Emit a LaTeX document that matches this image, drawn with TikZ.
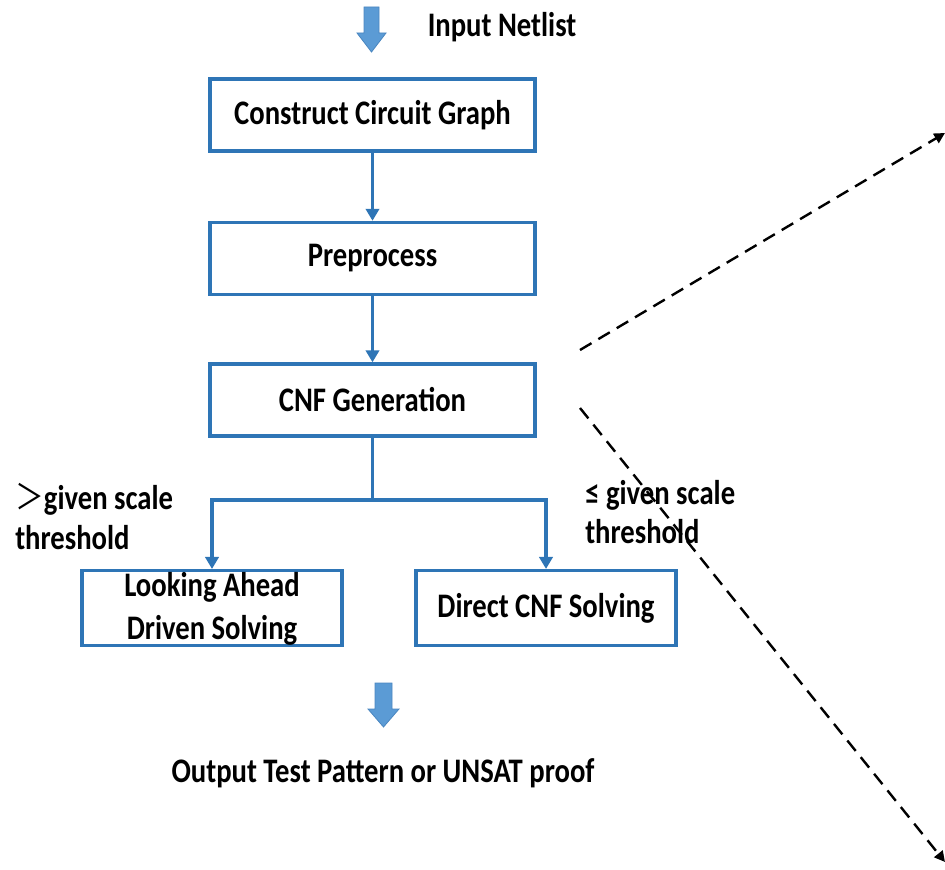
\documentclass[tikz,border=0pt]{standalone}
\usepackage{fontspec}
\setmainfont{Carlito}
\newfontfamily\cjk{Noto Sans CJK SC}
\usetikzlibrary{arrows.meta}
\definecolor{boxblue}{HTML}{2E75B6}
\definecolor{arrowfill}{HTML}{5B9BD5}
\definecolor{arrowedge}{HTML}{4A86C0}
\newcommand\vst[1]{\scalebox{1}[1.2]{#1}}
\begin{document}
\begin{tikzpicture}[x=0.75pt,y=-0.75pt,
  txt/.style={font=\fontsize{21.5}{25}\selectfont\bfseries, inner sep=0pt},
  stepbox/.style={draw=boxblue, line width=2.6pt, minimum width=243.75pt, minimum height=54pt, align=center, font=\fontsize{21.5}{25}\selectfont\bfseries, inner sep=0pt},
  smallbox/.style={stepbox, minimum width=195pt, minimum height=56pt},
  conn/.style={draw=boxblue, line width=2.6pt, -{Triangle[width=10pt,length=9pt]}},
  dashconn/.style={draw=black, line width=1.8pt, dash pattern=on 10pt off 6pt, -{Triangle[width=8pt,length=8pt]}},
  blockarrow/.style={fill=arrowfill, draw=arrowedge, line width=0.6pt}
]
\useasboundingbox (0,0) rectangle (945,870);

% top block arrow
\draw[blockarrow] (364,7) -- (379,7) -- (379,33) -- (386,33) -- (371.5,52) -- (357,33) -- (364,33) -- cycle;
\node[txt] (in) at (502,27) {\vst{Input Netlist}};

\node[stepbox] (ccg) at (372.5,115) {\vst{Construct Circuit Graph}};
\node[stepbox] (pre) at (372.5,258.5) {\vst{Preprocess}};
\node[stepbox] (cnf) at (372.5,400) {\vst{CNF Generation}};
\node[smallbox] (la) at (212,608) {\raisebox{-16pt}{\smash{\vst{\begin{tabular}{@{}c@{}}Looking Ahead\\[2pt]Driven Solving\end{tabular}}}}};
\node[smallbox] (dc) at (546,608) {\vst{Direct CNF Solving}};

\draw[conn] (ccg.south) -- (pre.north);
\draw[conn] (pre.south) -- (cnf.north);
\coordinate (split) at (372.5,500);
\draw[conn] (cnf.south) -- (split) -| (la.north);
\draw[conn] (split) -| (dc.north);

\node[txt, anchor=west] (lgt) at (15,521) {\vst{\begin{tabular}{@{}l@{}}{\cjk\mdseries ＞}given scale\\[0pt]threshold\end{tabular}}};
\node[txt, anchor=west] (rle) at (585,516) {\vst{\begin{tabular}{@{}l@{}}≤ given scale\\[-1pt]threshold\end{tabular}}};

% bottom block arrow
\draw[blockarrow] (375,683) -- (392,683) -- (392,709) -- (399,709) -- (383.5,727) -- (368,709) -- (375,709) -- cycle;
\node[txt] (out) at (383,773) {\vst{Output Test Pattern or UNSAT proof}};

% dashed connectors
\coordinate (d1s) at (580,350);
\coordinate (d1e) at (945,133);
\coordinate (d2s) at (580,408);
\coordinate (d2e) at (945,862);
\draw[dashconn] (d1s) -- (d1e);
\draw[dashconn] (d2s) -- (d2e);
\end{tikzpicture}
\end{document}
